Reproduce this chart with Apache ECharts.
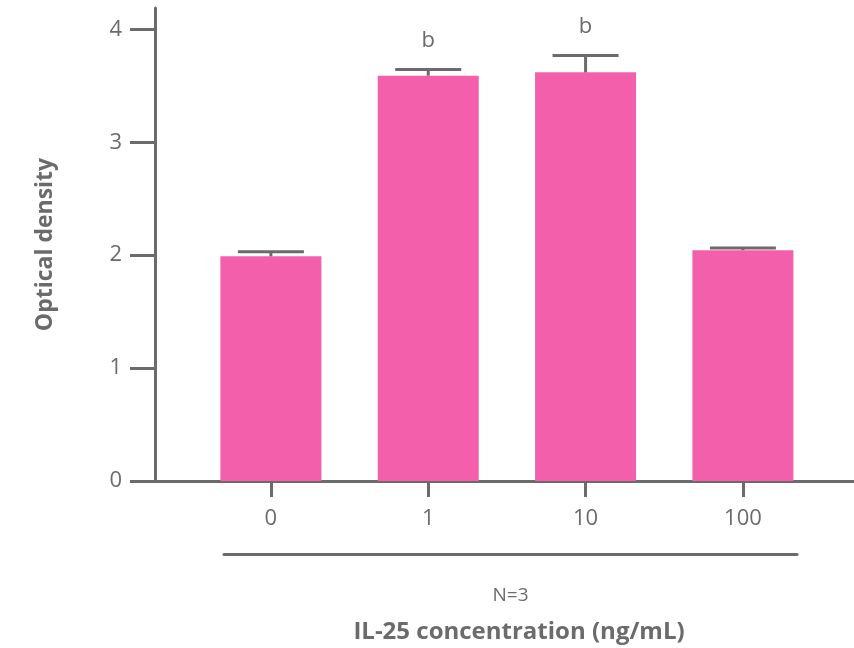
<!DOCTYPE html>
<html>
<head>
<meta charset="utf-8">
<script src="https://cdn.jsdelivr.net/npm/echarts@6/dist/echarts.min.js"></script>
<style>
  html, body { margin: 0; padding: 0; background: #fff; }
  #chart { width: 854px; height: 648px; }
</style>
</head>
<body>
<div id="chart"></div>
<script>
// IL-25 concentration groups
var categories = ["0", "1", "10", "100"];
var meanValues = [1.99, 3.59, 3.62, 2.045];
var errorTops = [2.03, 3.645, 3.77, 2.065];
var sigLabels = ["", "b", "b", ""];
var yTicks = [0, 1, 2, 3, 4];
var xTicks = [0, 1, 2, 3];

var grey = "#6b6b6b";
var pink = "#f35fab";
var font = "Open Sans";

var chart = echarts.init(document.getElementById("chart"));

var barData = meanValues.map(function (v, i) { return [i, v]; });
var errData = meanValues.map(function (v, i) { return [i, v, errorTops[i]]; });

chart.setOption({
  animation: false,
  textStyle: { fontFamily: font },
  title: {
    text: "IL-25 concentration (ng/mL)",
    left: 514,
    textAlign: "center",
    top: 615,
    textStyle: { fontFamily: font, fontSize: 24, fontWeight: "bold", color: grey }
  },
  grid: [
    { left: 155, right: 0, top: 8, bottom: 167 },
    { left: 224, right: 57, top: 553, height: 1 }
  ],
  xAxis: [
    {
      type: "value",
      gridIndex: 0,
      min: -0.7366,
      max: 3.706,
      splitLine: { show: false },
      axisLine: { show: true, onZero: false, lineStyle: { color: grey, width: 3 } },
      axisTick: { show: true, customValues: xTicks, length: 16, lineStyle: { color: grey, width: 3 } },
      axisLabel: {
        customValues: xTicks,
        margin: 27,
        fontSize: 22,
        color: grey,
        fontFamily: font,
        formatter: function (v) { return categories[Math.round(v)]; }
      }
    },
    {
      type: "value",
      gridIndex: 1,
      min: 0,
      max: 1,
      splitLine: { show: false },
      axisLine: { show: true, onZero: false, lineStyle: { color: grey, width: 3 } },
      axisTick: { show: false },
      axisLabel: { show: false },
      name: "N=3",
      nameLocation: "middle",
      nameGap: 32,
      nameTextStyle: { fontSize: 19, color: grey, fontFamily: font }
    }
  ],
  yAxis: [
    {
      type: "value",
      gridIndex: 0,
      min: 0,
      max: 4.19,
      splitLine: { show: false },
      axisLine: { show: true, onZero: false, lineStyle: { color: grey, width: 3 } },
      axisTick: { show: true, customValues: yTicks, length: 25, lineStyle: { color: grey, width: 3 } },
      axisLabel: { customValues: yTicks, margin: 33, fontSize: 22, color: grey, fontFamily: font },
      name: "Optical density",
      nameLocation: "middle",
      nameGap: 98,
      nameRotate: 90,
      nameTextStyle: { fontSize: 23, fontWeight: "bold", color: grey, fontFamily: font }
    },
    {
      type: "value",
      gridIndex: 1,
      show: false
    }
  ],
  series: [
    {
      type: "bar",
      data: barData,
      barWidth: 101,
      itemStyle: { color: pink },
      z: 2
    },
    {
      type: "custom",
      data: errData,
      z: 3,
      renderItem: function (params, api) {
        var i = api.value(0);
        var base = api.coord([i, api.value(1)]);
        var top = api.coord([i, api.value(2)]);
        var half = 33;
        var children = [
          {
            type: "line",
            shape: { x1: base[0], y1: base[1], x2: top[0], y2: top[1] },
            style: { stroke: grey, lineWidth: 3 }
          },
          {
            type: "line",
            shape: { x1: top[0] - half, y1: top[1], x2: top[0] + half, y2: top[1] },
            style: { stroke: grey, lineWidth: 3 }
          }
        ];
        var lab = sigLabels[params.dataIndex];
        if (lab) {
          children.push({
            type: "text",
            style: {
              text: lab,
              x: top[0],
              y: top[1] - 18,
              align: "center",
              verticalAlign: "bottom",
              fill: grey,
              fontSize: 22,
              fontFamily: font
            }
          });
        }
        return { type: "group", children: children };
      }
    }
  ]
});
</script>
</body>
</html>
